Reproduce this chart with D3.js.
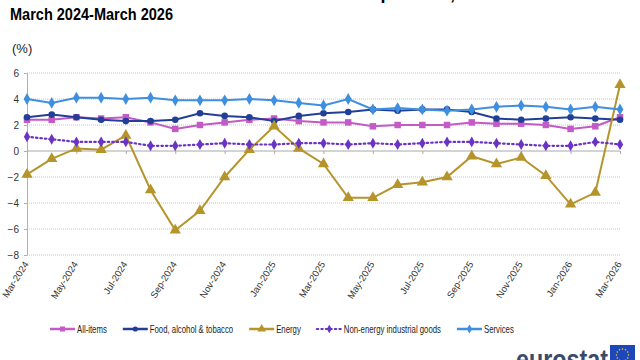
<!DOCTYPE html>
<html>
<head>
<meta charset="utf-8">
<script src="https://cdn.jsdelivr.net/npm/d3@7"></script>
<style>
    html, body { margin: 0; padding: 0; background: #fff; }
    text { font-family: Arial, "Liberation Sans", sans-serif; }
</style>
</head>
<body>
<div id="vis"></div>
<script>
// data (annual rate, %)
var months = ['Mar-2024', 'Apr-2024', 'May-2024', 'Jun-2024', 'Jul-2024', 'Aug-2024', 'Sep-2024',
    'Oct-2024', 'Nov-2024', 'Dec-2024', 'Jan-2025', 'Feb-2025', 'Mar-2025', 'Apr-2025', 'May-2025',
    'Jun-2025', 'Jul-2025', 'Aug-2025', 'Sep-2025', 'Oct-2025', 'Nov-2025', 'Dec-2025', 'Jan-2026',
    'Feb-2026', 'Mar-2026'];

var allItems  = [2.4, 2.4, 2.6, 2.5, 2.6, 2.2, 1.7, 2.0, 2.2, 2.4, 2.5, 2.3, 2.2, 2.2, 1.9, 2.0, 2.0, 2.0, 2.2, 2.1, 2.1, 2.0, 1.7, 1.9, 2.6];
var food      = [2.6, 2.8, 2.6, 2.4, 2.3, 2.3, 2.4, 2.9, 2.7, 2.6, 2.3, 2.7, 2.9, 3.0, 3.2, 3.1, 3.2, 3.2, 3.0, 2.5, 2.4, 2.5, 2.6, 2.5, 2.4];
var energy    = [-1.8, -0.6, 0.2, 0.1, 1.2, -3.0, -6.1, -4.6, -2.0, 0.1, 1.9, 0.2, -1.0, -3.6, -3.6, -2.6, -2.4, -2.0, -0.4, -1.0, -0.5, -1.9, -4.1, -3.2, 5.1];
var nonEnergy = [1.1, 0.9, 0.7, 0.7, 0.7, 0.4, 0.4, 0.5, 0.6, 0.5, 0.5, 0.6, 0.6, 0.5, 0.6, 0.5, 0.6, 0.7, 0.7, 0.6, 0.5, 0.4, 0.4, 0.7, 0.5];
var services  = [4.0, 3.7, 4.1, 4.1, 4.0, 4.1, 3.9, 3.9, 3.9, 4.0, 3.9, 3.7, 3.5, 4.0, 3.2, 3.3, 3.2, 3.1, 3.2, 3.4, 3.5, 3.4, 3.2, 3.4, 3.2];

var seriesNames = ['All-items', 'Food, alcohol & tobacco', 'Energy', 'Non-energy industrial goods', 'Services'];
var yTicks = [-8, -6, -4, -2, 0, 2, 4, 6];

var width = 640, height = 360;
var margin = { left: 27, right: 20, top: 73, bottom: 105 };

var series = [
    { name: seriesNames[0], values: allItems,  color: '#c45ac6', symbol: d3.symbolSquare,   size: 42, dash: null },
    { name: seriesNames[1], values: food,      color: '#213f96', symbol: d3.symbolCircle,   size: 34, dash: null },
    { name: seriesNames[2], values: energy,    color: '#b5942a', symbol: d3.symbolTriangle, size: 55, dash: null },
    { name: seriesNames[3], values: nonEnergy, color: '#6a33c6', symbol: d3.symbolDiamond,  size: 34, dash: '1.5,3' },
    { name: seriesNames[4], values: services,  color: '#3f8fe0', symbol: d3.symbolDiamond,  size: 40, dash: null }
];

var svg = d3.select('#vis').append('svg')
    .attr('width', width)
    .attr('height', height);

// titles (first line is cut off by the frame)
svg.append('text')
    .attr('x', 10).attr('y', -0.5)
    .attr('font-size', 17).attr('font-weight', 'bold')
    .attr('textLength', 445).attr('lengthAdjust', 'spacingAndGlyphs')
    .text('Euro area annual inflation and its main components,');
svg.append('text')
    .attr('x', 10).attr('y', 20)
    .attr('font-size', 16.5).attr('font-weight', 'bold')
    .attr('textLength', 163).attr('lengthAdjust', 'spacingAndGlyphs')
    .text('March 2024-March 2026');
svg.append('text')
    .attr('x', 12).attr('y', 53)
    .attr('font-size', 13).attr('fill', '#222')
    .text('(%)');

var x = d3.scalePoint()
    .domain(months)
    .range([margin.left, width - margin.right]);

var y = d3.scaleLinear()
    .domain([-8, 6])
    .range([height - margin.bottom, margin.top]);

// grid lines
svg.append('g').selectAll('line')
    .data(yTicks.filter(function(d) { return d !== 0; }))
    .enter().append('line')
    .attr('x1', margin.left).attr('x2', width - margin.right)
    .attr('y1', function(d) { return y(d); })
    .attr('y2', function(d) { return y(d); })
    .attr('stroke', '#c4c4c4')
    .attr('stroke-dasharray', '1,1');

// y axis
var yAxis = svg.append('g')
    .attr('transform', 'translate(' + margin.left + ',0)')
    .call(d3.axisLeft(y).tickValues(yTicks).tickSize(3).tickPadding(5));
yAxis.select('.domain').attr('stroke', '#b0b0b0');
yAxis.selectAll('.tick line').attr('stroke', '#b0b0b0');
yAxis.selectAll('text').attr('font-size', 10).attr('fill', '#333')
    .attr('font-family', 'Arial, "Liberation Sans", sans-serif');

// x axis on the zero line, ticks every second month
var labelMonths = months.filter(function(d, i) { return i % 2 === 0; });
var xAxis = svg.append('g')
    .attr('transform', 'translate(0,' + y(0) + ')')
    .call(d3.axisBottom(x).tickValues(labelMonths).tickSize(3).tickFormat(''))
    .call(function(g) { g.select('.domain').attr('d', 'M' + margin.left + ',0H' + (width - margin.right)); });
xAxis.select('.domain').attr('stroke', '#a8a8a8');
xAxis.selectAll('.tick line').attr('stroke', '#a8a8a8');

// month labels below the plot
svg.append('g').selectAll('text')
    .data(labelMonths)
    .enter().append('text')
    .attr('transform', function(d) { return 'translate(' + (x(d) + 2) + ',' + (y(-8) + 9) + ') rotate(-58)'; })
    .attr('text-anchor', 'end')
    .attr('font-size', 9.5)
    .attr('fill', '#333')
    .text(function(d) { return d; });

// series
var line = d3.line()
    .x(function(d, i) { return x(months[i]); })
    .y(function(d) { return y(d); });

series.forEach(function(s)
{
    var g = svg.append('g');
    g.append('path')
        .datum(s.values)
        .attr('d', line)
        .attr('fill', 'none')
        .attr('stroke', s.color)
        .attr('stroke-width', s.dash ? 2.2 : 2)
        .attr('stroke-linecap', s.dash ? 'round' : 'butt')
        .attr('stroke-dasharray', s.dash);
    g.selectAll('path.mark')
        .data(s.values)
        .enter().append('path')
        .attr('class', 'mark')
        .attr('transform', function(d, i) { return 'translate(' + x(months[i]) + ',' + y(d) + ')'; })
        .attr('d', d3.symbol().type(s.symbol).size(s.size))
        .attr('fill', s.color);
});

// legend
var legend = svg.append('g').attr('transform', 'translate(0,329)');
var lx = 50;
series.forEach(function(s)
{
    legend.append('line')
        .attr('x1', lx).attr('x2', lx + 25)
        .attr('stroke', s.color)
        .attr('stroke-width', s.dash ? 2 : 2.5)
        .attr('stroke-linecap', s.dash ? 'round' : 'butt')
        .attr('stroke-dasharray', s.dash);
    legend.append('path')
        .attr('transform', 'translate(' + (lx + 12.5) + ',0)')
        .attr('d', d3.symbol().type(s.symbol).size(s.size * 0.6))
        .attr('fill', s.color);
    var t = legend.append('text')
        .attr('x', lx + 27).attr('y', 3.5)
        .attr('font-size', 10.5).attr('fill', '#222')
        .text(s.name);
    var len = t.node().getComputedTextLength() * 0.74;
    t.attr('textLength', len).attr('lengthAdjust', 'spacingAndGlyphs');
    lx += 27 + len + 16;
});

// source line, cut by the frame
svg.append('text')
    .attr('x', 10).attr('y', 369)
    .attr('font-size', 11).attr('fill', '#222')
    .text('Source: Eurostat (online data code: prc_hicp_manr)');

// logo
svg.append('text')
    .attr('x', 516).attr('y', 369)
    .attr('font-size', 27).attr('font-weight', 'bold').attr('fill', '#3a4a6b')
    .attr('textLength', 92).attr('lengthAdjust', 'spacingAndGlyphs')
    .text('eurostat');
svg.append('rect')
    .attr('x', 610).attr('y', 345).attr('width', 25).attr('height', 20)
    .attr('fill', '#1d46b8');
var stars = d3.range(12).map(function(i) { return i * Math.PI / 6; });
svg.append('g').selectAll('circle')
    .data(stars)
    .enter().append('circle')
    .attr('cx', function(a) { return 622.5 + 6 * Math.cos(a); })
    .attr('cy', function(a) { return 355 + 6 * Math.sin(a); })
    .attr('r', 0.8)
    .attr('fill', '#f2d21b');
</script>
</body>
</html>
